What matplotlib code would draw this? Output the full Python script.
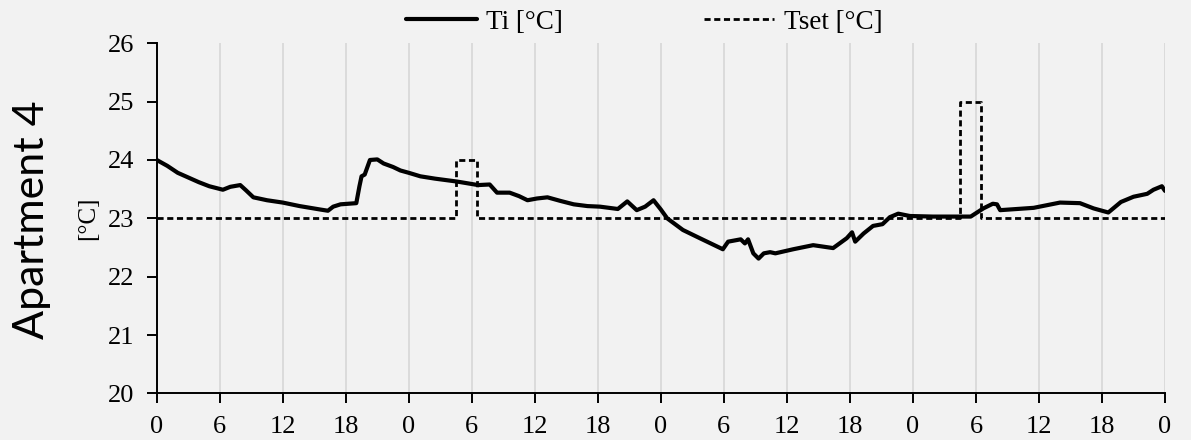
import numpy as np
import matplotlib.pyplot as plt

# Ti readings (hours from start, degC)
hours = [0, 1, 2, 3, 4, 5, 6.3, 7.0, 7.95, 8.5, 9.2, 10.5, 12, 13.6, 15.6, 16.3,
         16.8, 17.5, 19.0, 19.3, 19.5, 19.8, 20.3, 21.0, 21.6, 22.5, 23.2, 24.0,
         25.1, 26.5, 28.6, 30.6, 31.7, 32.4, 33.6, 34.5, 35.3, 36.2, 37.2, 38.4,
         39.7, 41.0, 42.2, 43.9, 44.8, 45.7, 46.5, 47.3, 48.0, 48.6, 50.1, 51.7,
         53.9, 54.4, 55.6, 56.0, 56.3, 56.8, 57.3, 57.8, 58.4, 58.9, 60.6, 62.5,
         64.4, 65.7, 66.2, 66.5, 67.3, 68.2, 69.1, 69.8, 70.6, 71.7, 73.9, 77.5,
         78.7, 79.6, 80.0, 80.3, 83.5, 86.0, 87.9, 89.2, 90.6, 91.8, 93.0, 94.3,
         94.9, 95.7, 96.0]
ti = [24.00, 23.90, 23.78, 23.70, 23.62, 23.55, 23.49, 23.54, 23.57, 23.48, 23.36,
      23.31, 23.27, 23.21, 23.15, 23.13, 23.20, 23.24, 23.26, 23.55, 23.72, 23.75,
      24.00, 24.01, 23.94, 23.88, 23.82, 23.78, 23.72, 23.68, 23.63, 23.57, 23.58,
      23.44, 23.44, 23.38, 23.31, 23.34, 23.36, 23.30, 23.24, 23.21, 23.20, 23.16,
      23.29, 23.14, 23.20, 23.31, 23.15, 23.00, 22.80, 22.66, 22.47, 22.60, 22.64,
      22.57, 22.64, 22.40, 22.31, 22.40, 22.42, 22.40, 22.47, 22.54, 22.49, 22.66,
      22.76, 22.60, 22.74, 22.87, 22.90, 23.02, 23.08, 23.04, 23.03, 23.03, 23.17,
      23.25, 23.24, 23.14, 23.18, 23.27, 23.26, 23.17, 23.10, 23.28, 23.37, 23.42,
      23.49, 23.55, 23.47]

# Tset step profile
set_hours = [0, 28.5, 28.5, 30.5, 30.5, 76.5, 76.5, 78.5, 78.5, 96]
tset = [23, 23, 24, 24, 23, 23, 25, 25, 23, 23]

xticks = np.arange(0, 97, 6)
xlabels = [str(h % 24) for h in xticks]
yticks = [20, 21, 22, 23, 24, 25, 26]

bg = '#f2f2f2'
serif = 'Liberation Serif'

fig = plt.figure(figsize=(11.91, 4.4), dpi=100, facecolor=bg)
ax = fig.add_axes([0.1316, 0.106, 0.8466, 0.7956], facecolor=bg)

ax.plot(set_hours, tset, color='black', lw=2.0, ls=(0, (2.2, 1.3)), label='Tset [°C]', zorder=3)
ax.plot(hours, ti, color='black', lw=3.0, label='Ti [°C]', zorder=4,
        solid_joinstyle='round', solid_capstyle='round')

ax.set_xlim(0, 96)
ax.set_ylim(20, 26)
ax.set_xticks(xticks)
ax.set_xticklabels(xlabels)
ax.set_yticks(yticks)
ax.grid(axis='x', color='#d9d9d9', lw=1.3)
ax.set_axisbelow(True)
for s in ['top', 'right']:
    ax.spines[s].set_visible(False)
for s in ['left', 'bottom']:
    ax.spines[s].set_linewidth(1.4)
ax.tick_params(direction='out', length=7, width=1.4, pad=9, labelsize=19)
for lab in ax.get_xticklabels() + ax.get_yticklabels():
    lab.set_family(serif)

h, l = ax.get_legend_handles_labels()
fig.legend(h[::-1], l[::-1], loc='center', bbox_to_anchor=(0.541, 0.949), ncol=2,
           frameon=False, prop={'family': serif, 'size': 19.5},
           handlelength=2.6, handletextpad=0.35, columnspacing=5.2)

fig.text(0.027, 0.5, 'Apartment 4', rotation=90, ha='center', va='center',
         family='Lato', fontsize=31, color='black')
fig.text(0.074, 0.505, '[°C]', rotation=90, ha='center', va='center',
         family=serif, fontsize=18)

fig.savefig('out.png', dpi=100, facecolor=bg)
